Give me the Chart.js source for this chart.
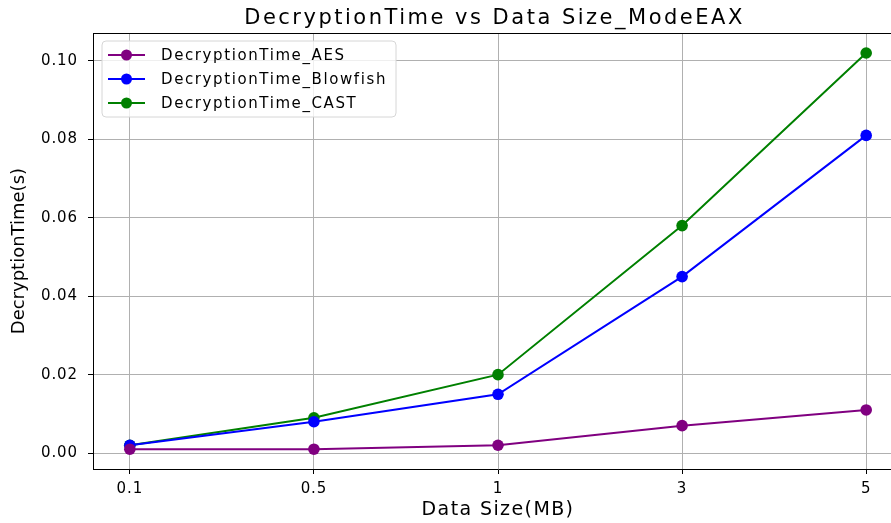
<!DOCTYPE html>
<html>
<head>
<meta charset="utf-8">
<script src="https://cdn.jsdelivr.net/npm/chart.js@4.4.1/dist/chart.umd.min.js"></script>
<style>
  html, body { margin: 0; padding: 0; background: #fff; overflow: hidden; }
  #wrap { width: 891px; height: 523px; overflow: hidden; position: relative; }
  #box { width: 920px; height: 523px; position: absolute; left: 0; top: 0; }
</style>
</head>
<body>
<div id="wrap"><div id="box"><canvas id="c"></canvas></div></div>
<script>
// Data sizes (MB) shown on the x axis
const categories = ['0.1', '0.5', '1', '3', '5'];
// Decryption time in seconds for each cipher (EAX mode)
const aesTimes = [0.001, 0.001, 0.002, 0.007, 0.011];
const blowfishTimes = [0.002, 0.008, 0.015, 0.045, 0.081];
const castTimes = [0.002, 0.009, 0.020, 0.058, 0.102];
// Y axis tick values
const yTicks = [0.00, 0.02, 0.04, 0.06, 0.08, 0.10];

const FONT = "'DejaVu Sans', sans-serif";

function series(label, values, color) {
  return {
    label: label,
    data: values.map((v, i) => ({ x: i, y: v })),
    borderColor: color,
    backgroundColor: color,
    borderWidth: 2,
    pointRadius: 5.8,
    pointHoverRadius: 5.8,
    pointBorderWidth: 0,
    tension: 0
  };
}

// Wraps a draw method so its text is rendered with extra letter spacing,
// optionally shifted horizontally
function withSpacing(obj, method, spacing, dx) {
  if (!obj || obj['__sp_' + method]) return;
  const orig = obj[method];
  obj[method] = function (...args) {
    const ctx = this.ctx;
    ctx.save();
    ctx.letterSpacing = spacing;
    if (dx) ctx.translate(dx, 0);
    const r = orig.apply(this, args);
    ctx.restore();
    return r;
  };
  obj['__sp_' + method] = true;
}

const textSpacing = {
  id: 'textSpacing',
  afterLayout(chart) {
    withSpacing(chart.scales.x, 'drawLabels', '0.9px');
    withSpacing(chart.scales.x, 'drawTitle', '1.4px');
    withSpacing(chart.scales.y, 'drawLabels', '0.9px');
    // title centred over the axes box rather than the whole canvas
    const a = chart.chartArea;
    const dx = (a.left + a.right) / 2 - chart.width / 2 + 5;
    withSpacing(chart.titleBlock, 'draw', '2.5px', dx);
  }
};

// Matplotlib-style legend drawn inside the plot area, upper left
const insideLegend = {
  id: 'insideLegend',
  afterDatasetsDraw(chart) {
    const ctx = chart.ctx;
    const x0 = 102, y0 = 41, w = 294, h = 76, r = 4;
    ctx.save();
    ctx.beginPath();
    ctx.moveTo(x0 + r, y0);
    ctx.arcTo(x0 + w, y0, x0 + w, y0 + h, r);
    ctx.arcTo(x0 + w, y0 + h, x0, y0 + h, r);
    ctx.arcTo(x0, y0 + h, x0, y0, r);
    ctx.arcTo(x0, y0, x0 + w, y0, r);
    ctx.closePath();
    ctx.fillStyle = 'rgba(255,255,255,0.8)';
    ctx.fill();
    ctx.strokeStyle = '#d6d6d6';
    ctx.lineWidth = 1;
    ctx.stroke();
    ctx.font = '15px ' + FONT;
    ctx.letterSpacing = '1.6px';
    ctx.textBaseline = 'middle';
    ctx.textAlign = 'left';
    chart.data.datasets.forEach((ds, i) => {
      const cy = 55 + i * 24;
      ctx.strokeStyle = ds.borderColor;
      ctx.lineWidth = 2;
      ctx.beginPath();
      ctx.moveTo(108, cy);
      ctx.lineTo(145, cy);
      ctx.stroke();
      ctx.fillStyle = ds.borderColor;
      ctx.beginPath();
      ctx.arc(126.5, cy, 5.5, 0, Math.PI * 2);
      ctx.fill();
      ctx.fillStyle = '#000';
      ctx.fillText(ds.label, 161, cy + 1);
    });
    ctx.restore();
  }
};

// Top and right spines of the axes box
const frame = {
  id: 'frame',
  afterDraw(chart) {
    const a = chart.chartArea, ctx = chart.ctx;
    ctx.save();
    ctx.strokeStyle = '#000';
    ctx.lineWidth = 1;
    ctx.beginPath();
    ctx.moveTo(a.left, Math.round(a.top) + 0.5);
    ctx.lineTo(a.right, Math.round(a.top) + 0.5);
    ctx.lineTo(a.right, a.bottom);
    ctx.stroke();
    ctx.restore();
  }
};

new Chart(document.getElementById('c'), {
  type: 'line',
  data: {
    datasets: [
      series('DecryptionTime_AES', aesTimes, '#800080'),
      series('DecryptionTime_Blowfish', blowfishTimes, '#0000ff'),
      series('DecryptionTime_CAST', castTimes, '#008000')
    ]
  },
  options: {
    responsive: true,
    maintainAspectRatio: false,
    animation: false,
    events: [],
    layout: { padding: { left: 0, right: 17, top: 0, bottom: 0 } },
    plugins: {
      legend: { display: false },
      tooltip: { enabled: false },
      title: {
        display: true,
        text: 'DecryptionTime vs Data Size_ModeEAX',
        color: '#000',
        font: { family: FONT, size: 21, weight: 'normal' },
        padding: { top: 6, bottom: 2 }
      }
    },
    scales: {
      x: {
        type: 'linear',
        min: -0.2,
        max: 4.2,
        afterBuildTicks(scale) {
          scale.ticks = categories.map((c, i) => ({ value: i }));
        },
        afterFit(scale) { scale.height = 54; },
        ticks: {
          callback: (v) => categories[v],
          color: '#000',
          font: { family: FONT, size: 15 },
          padding: 6,
          maxRotation: 0,
          autoSkip: false
        },
        grid: { color: '#b0b0b0', lineWidth: 1, tickLength: 5, tickColor: '#000' },
        border: { color: '#000', width: 1 },
        title: {
          display: true,
          text: 'Data Size(MB)',
          color: '#000',
          font: { family: FONT, size: 19 },
          padding: { top: 2, bottom: 1.5 }
        }
      },
      y: {
        type: 'linear',
        min: -0.00405,
        max: 0.10705,
        afterBuildTicks(scale) {
          scale.ticks = yTicks.map(v => ({ value: v }));
        },
        afterFit(scale) { scale.width = 93; },
        ticks: {
          callback: (v) => v.toFixed(2),
          color: '#000',
          font: { family: FONT, size: 15 },
          padding: 10
        },
        grid: { color: '#b0b0b0', lineWidth: 1, tickLength: 5, tickColor: '#000' },
        border: { color: '#000', width: 1 },
        title: {
          display: true,
          text: 'DecryptionTime(s)',
          color: '#000',
          font: { family: FONT, size: 18 },
          padding: { top: 9, bottom: 0 }
        }
      }
    }
  },
  plugins: [textSpacing, insideLegend, frame]
});
</script>
</body>
</html>
